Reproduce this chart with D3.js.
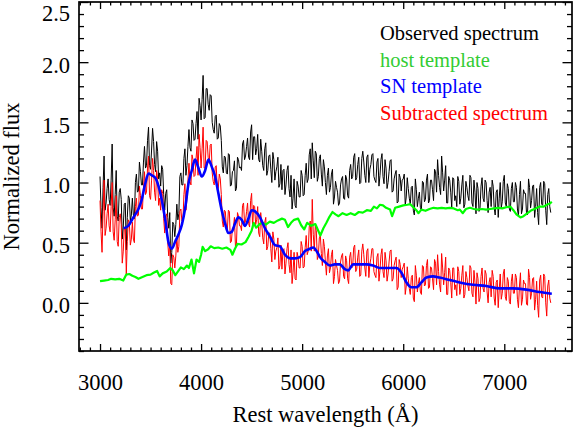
<!DOCTYPE html>
<html><head><meta charset="utf-8">
<script src="https://cdn.jsdelivr.net/npm/d3@7"></script>
<style>
body{margin:0;background:#fff}
svg{display:block}
text{font-family:"Liberation Serif","Times New Roman",serif}
</style>
</head><body>
<svg id="c" width="575" height="428"></svg>
<script>
// ---- data ----
const specStart = 3000, specStep = 10; // wavelength grid of the noisy spectra (Å)
const observedFlux = [
1.05,0.79,0.62,0.96,1.22,0.77,0.83,0.95,1.03,0.86,0.81,1.02,1.32,0.79,0.72,0.90,1.10,0.72,0.68,0.92,
0.95,0.86,0.53,0.63,0.82,0.83,0.44,0.71,0.89,0.87,0.68,0.73,0.87,0.73,0.70,1.00,1.07,0.92,0.93,1.17,
1.09,0.98,0.98,1.17,1.30,1.12,1.14,1.35,1.46,1.14,1.11,1.27,1.45,1.34,1.15,1.09,1.34,1.26,1.03,1.08,
0.97,1.14,1.11,0.90,0.77,0.91,0.94,0.71,0.62,0.75,0.33,0.42,0.67,0.65,0.55,0.65,0.82,0.69,0.74,1.05,
1.08,0.98,0.98,1.20,1.28,1.06,1.14,1.30,1.44,1.29,1.26,1.52,1.49,1.35,1.36,1.49,1.59,1.36,1.70,1.64,
1.52,1.69,1.89,1.53,1.54,1.78,1.78,1.65,1.60,1.73,1.72,1.50,1.44,1.41,1.55,1.56,1.36,1.37,1.49,1.47,
1.35,1.13,1.08,1.22,1.21,1.08,1.07,1.24,1.23,0.97,0.98,1.09,1.10,1.18,0.93,0.95,1.21,1.19,1.12,1.13,
1.10,1.32,1.35,1.19,1.22,1.30,1.37,1.21,1.19,1.42,1.48,1.19,1.38,1.38,1.23,1.28,1.40,1.19,1.17,1.36,
1.26,1.14,1.10,1.28,1.33,1.06,1.10,1.22,1.23,1.11,1.00,1.25,1.19,1.02,1.09,1.13,1.21,0.96,0.99,1.15,
0.94,1.10,1.11,0.90,0.98,1.10,1.14,0.95,0.88,1.06,0.78,0.87,1.03,0.81,0.79,1.01,0.97,0.88,0.88,1.10,
1.06,0.89,0.90,1.06,1.16,1.00,1.03,1.23,1.28,1.03,1.33,1.18,1.04,1.26,1.24,1.01,1.05,1.20,1.23,1.07,
0.97,1.19,1.13,1.00,0.90,1.06,1.12,0.92,0.96,1.07,1.11,0.82,0.88,1.01,0.96,0.92,0.81,0.83,0.98,1.03,
1.05,0.87,0.86,1.06,1.03,0.89,0.87,1.10,1.15,1.03,1.05,1.21,1.24,1.02,1.04,1.15,1.21,0.99,1.00,1.20,
1.26,1.17,1.06,1.00,1.21,1.23,1.00,1.11,1.15,1.23,1.24,1.05,1.02,1.00,1.17,1.20,0.97,1.06,1.19,1.24,
1.05,0.99,1.19,1.12,0.95,1.00,1.09,1.18,1.19,0.92,0.93,1.03,1.07,1.10,0.83,0.84,1.07,1.04,0.93,1.02,
1.03,1.07,0.81,0.88,1.04,0.95,0.87,0.82,0.96,0.97,0.77,0.73,1.03,0.94,0.80,0.87,0.92,0.79,0.77,1.01,
1.00,0.84,0.86,1.02,1.07,0.83,0.85,1.02,1.02,0.94,0.85,1.11,1.09,0.92,1.19,1.06,0.96,0.90,1.22,1.08,
0.93,1.02,1.14,0.83,0.83,1.05,1.02,0.92,0.79,1.04,1.03,0.85,0.89,0.80,1.05,1.01,0.82,0.87,0.98,1.06,
0.79,0.82,1.01,0.96,0.89,0.85,1.06,1.04,0.83,0.80,1.02,0.92,0.74,1.00,0.95,0.76,0.79,0.97,1.04,0.87,
0.84,1.02,1.00,0.85,0.75,0.92,0.96,0.80,1.02,0.97,0.79,0.73,0.92,0.94,0.71,0.87,1.00,0.79,0.84,1.01,
1.06,0.83,0.80,0.99,0.95,0.78,0.76,0.95,1.00,0.84,0.84,1.00,0.96,0.78,0.72,0.90,1.01,0.74,0.78,0.94,
0.91,0.91,0.74,0.73,1.03,0.96,0.79,0.85,0.97,0.98,0.71,0.80,0.95,0.75,0.65,0.96,1.00,0.82,0.81,1.01,
0.99,0.77,0.65,0.90,0.95,0.80,0.75];
const subtractedFlux = [
0.85,0.59,0.42,0.76,1.02,0.56,0.62,0.74,0.82,0.64,0.59,0.80,1.00,0.59,0.52,0.69,0.89,0.51,0.47,0.71,
0.74,0.65,0.33,0.43,0.62,0.63,0.24,0.51,0.69,0.67,0.48,0.53,0.67,0.53,0.50,0.80,0.87,0.72,0.73,0.97,
0.89,0.78,0.78,0.96,1.09,0.90,0.92,1.12,1.22,0.89,0.86,1.02,1.20,1.10,0.92,0.85,1.10,1.03,0.81,0.87,
0.77,0.94,0.91,0.70,0.58,0.72,0.74,0.50,0.39,0.50,0.16,0.15,0.40,0.38,0.29,0.39,0.55,0.42,0.47,0.76,
0.78,0.68,0.68,0.90,0.99,0.77,0.86,1.02,1.16,1.01,0.98,1.23,1.19,1.05,1.06,1.20,1.30,1.06,1.40,1.29,
1.12,1.28,1.46,1.12,1.12,1.35,1.34,1.21,1.16,1.31,1.32,1.08,1.01,0.98,1.13,1.14,0.94,0.95,1.07,1.03,
0.90,0.68,0.63,0.77,0.76,0.62,0.61,0.77,0.76,0.50,0.51,0.62,0.63,0.71,0.47,0.49,0.75,0.72,0.64,0.64,
0.60,0.81,0.83,0.66,0.68,0.76,0.83,0.66,0.63,0.85,0.91,0.62,0.81,0.80,0.65,0.69,0.80,0.58,0.55,0.75,
0.66,0.54,0.49,0.67,0.71,0.44,0.47,0.58,0.58,0.45,0.34,0.59,0.53,0.36,0.43,0.46,0.54,0.28,0.31,0.48,
0.28,0.44,0.45,0.24,0.33,0.45,0.50,0.32,0.25,0.44,0.16,0.25,0.42,0.20,0.19,0.42,0.38,0.29,0.29,0.51,
0.47,0.29,0.30,0.46,0.56,0.40,0.43,0.63,0.68,0.43,0.86,0.57,0.43,0.64,0.60,0.36,0.39,0.54,0.56,0.41,
0.31,0.53,0.47,0.34,0.23,0.39,0.45,0.25,0.29,0.40,0.44,0.16,0.22,0.36,0.31,0.27,0.16,0.18,0.34,0.39,
0.41,0.22,0.20,0.39,0.35,0.20,0.16,0.38,0.42,0.29,0.30,0.46,0.48,0.26,0.28,0.38,0.44,0.22,0.23,0.43,
0.49,0.40,0.29,0.22,0.43,0.45,0.21,0.32,0.37,0.45,0.45,0.26,0.23,0.21,0.38,0.41,0.18,0.27,0.40,0.45,
0.26,0.21,0.42,0.35,0.18,0.24,0.34,0.43,0.44,0.18,0.20,0.31,0.35,0.38,0.11,0.13,0.36,0.32,0.21,0.28,
0.30,0.33,0.07,0.14,0.30,0.20,0.12,0.07,0.21,0.23,0.04,0.01,0.31,0.23,0.09,0.16,0.21,0.09,0.07,0.31,
0.30,0.14,0.15,0.31,0.36,0.12,0.13,0.30,0.29,0.20,0.11,0.36,0.33,0.15,0.40,0.26,0.15,0.09,0.41,0.29,
0.15,0.25,0.38,0.07,0.07,0.29,0.27,0.17,0.04,0.29,0.29,0.11,0.15,0.06,0.30,0.26,0.07,0.12,0.23,0.31,
0.04,0.07,0.26,0.21,0.14,0.10,0.31,0.29,0.08,0.05,0.27,0.17,-0.01,0.25,0.20,0.01,0.04,0.22,0.29,0.12,
0.09,0.27,0.24,0.09,0.00,0.17,0.21,0.05,0.27,0.22,0.04,-0.02,0.17,0.19,-0.04,0.11,0.24,0.03,0.08,0.24,
0.28,0.05,0.02,0.21,0.18,0.01,-0.01,0.18,0.24,0.08,0.08,0.24,0.21,0.03,-0.04,0.14,0.25,-0.02,0.03,0.19,
0.16,0.16,-0.01,-0.02,0.28,0.21,0.03,0.08,0.20,0.21,-0.06,0.03,0.18,-0.02,-0.12,0.19,0.23,0.05,0.04,0.24,
0.22,0.00,-0.11,0.14,0.19,0.04,0.00];
const hostWave = [3000,3040,3080,3110,3150,3190,3230,3260,3290,3320,3350,3380,3420,3460,3500,3530,3565,3590,3620,3660,3695,3720,3745,3770,3800,3830,3860,3880,3905,3930,3955,3980,4000,4015,4040,4070,4095,4130,4170,4210,4250,4290,4310,4335,4360,4400,4440,4470,4500,4520,4545,4580,4610,4640,4680,4720,4760,4800,4830,4860,4890,4920,4960,4990,5020,5050,5090,5130,5180,5210,5240,5270,5300,5330,5360,5400,5440,5480,5520,5560,5600,5640,5680,5710,5740,5770,5800,5830,5870,5890,5920,5960,6000,6040,6070,6100,6130,6150,6180,6220,6260,6300,6340,6380,6420,6460,6500,6540,6560,6590,6620,6660,6700,6740,6780,6820,6860,6900,6940,6980,7020,7060,7090,7120,7160,7190,7230,7270,7310,7350,7390,7420,7450,7470];
const hostFlux = [0.18,0.185,0.19,0.20,0.195,0.20,0.185,0.235,0.24,0.225,0.215,0.20,0.215,0.23,0.235,0.25,0.265,0.22,0.245,0.26,0.29,0.27,0.23,0.26,0.295,0.28,0.31,0.29,0.36,0.245,0.36,0.34,0.40,0.465,0.43,0.445,0.47,0.455,0.46,0.45,0.46,0.44,0.40,0.45,0.49,0.485,0.505,0.55,0.60,0.665,0.625,0.655,0.665,0.65,0.675,0.665,0.685,0.70,0.69,0.63,0.665,0.69,0.70,0.645,0.61,0.665,0.64,0.655,0.56,0.62,0.665,0.715,0.755,0.735,0.72,0.745,0.73,0.745,0.73,0.755,0.75,0.77,0.765,0.80,0.785,0.815,0.81,0.79,0.775,0.72,0.79,0.80,0.81,0.815,0.82,0.795,0.77,0.745,0.775,0.765,0.78,0.79,0.785,0.79,0.785,0.79,0.785,0.77,0.775,0.745,0.78,0.79,0.78,0.775,0.78,0.775,0.78,0.785,0.79,0.785,0.795,0.80,0.77,0.735,0.71,0.72,0.745,0.77,0.785,0.80,0.80,0.815,0.825,0.84];
const snWave = [3233,3280,3330,3380,3410,3447,3480,3513,3546,3579,3612,3645,3677,3711,3744,3777,3810,3843,3875,3908,3940,3974,4007,4040,4073,4106,4139,4171,4204,4237,4270,4303,4336,4369,4402,4435,4468,4501,4534,4583,4632,4682,4731,4780,4830,4880,4929,4978,5028,5077,5110,5150,5176,5225,5274,5322,5372,5422,5455,5505,5571,5637,5702,5768,5834,5933,5983,6032,6081,6131,6180,6230,6296,6361,6460,6559,6690,6822,6954,7085,7217,7349,7470];
const snFlux = [0.62,0.64,0.71,0.78,0.85,0.99,1.075,1.06,1.04,0.97,0.85,0.69,0.505,0.45,0.51,0.57,0.65,0.79,0.99,1.10,1.19,1.12,1.05,1.10,1.19,1.13,1.05,0.91,0.77,0.66,0.58,0.59,0.66,0.71,0.69,0.64,0.70,0.77,0.76,0.71,0.62,0.55,0.48,0.47,0.40,0.37,0.37,0.38,0.43,0.45,0.46,0.42,0.38,0.34,0.31,0.32,0.32,0.28,0.27,0.32,0.32,0.32,0.31,0.29,0.29,0.29,0.25,0.17,0.13,0.13,0.17,0.21,0.22,0.21,0.19,0.17,0.15,0.14,0.12,0.12,0.11,0.09,0.075];
const xTickValues = [3000,4000,5000,6000,7000];
const yTickValues = [0,0.5,1,1.5,2,2.5];
const legendLabels = ["Observed spectrum","host template","SN template","Subtracted spectrum"];
const legendColors = ["#000000","#33cc33","#0000ff","#ff0000"];

// ---- layout ----
const W = 575, H = 428, m = {l:79, r:3, t:2, b:77};
const svg = d3.select("#c");
const x = d3.scaleLinear().domain([2792, 7670]).range([m.l, W - m.r]);
const y = d3.scaleLinear().domain([-0.4, 2.5]).range([H - m.b, m.t]);
const FS = 22.5;

svg.append("defs").append("clipPath").attr("id","clip")
  .append("rect").attr("x", m.l).attr("y", m.t)
  .attr("width", W - m.l - m.r).attr("height", H - m.t - m.b);

const plot = svg.append("g").attr("clip-path","url(#clip)");
const specW = observedFlux.map((_, i) => specStart + i * specStep);

const line = d3.line().x(d => x(d[0])).y(d => y(d[1]));
const smooth = d3.line().x(d => x(d[0])).y(d => y(d[1])).curve(d3.curveMonotoneX);

plot.append("path").datum(specW.map((w,i)=>[w, observedFlux[i]]))
  .attr("d", line).attr("fill","none").attr("stroke","#000").attr("stroke-width",1);
plot.append("path").datum(specW.map((w,i)=>[w, subtractedFlux[i]]))
  .attr("d", line).attr("fill","none").attr("stroke","#ff0000").attr("stroke-width",1);
plot.append("path").datum(hostWave.map((w,i)=>[w, hostFlux[i]]))
  .attr("d", line).attr("fill","none").attr("stroke","#00ff00").attr("stroke-width",2.2)
  .attr("stroke-linejoin","round");
plot.append("path").datum(snWave.map((w,i)=>[w, snFlux[i]]))
  .attr("d", smooth).attr("fill","none").attr("stroke","#0000ff").attr("stroke-width",2.6)
  .attr("stroke-linejoin","round");

// ---- axes ----
const xMinor = d3.range(2800, 7700, 100).filter(v => v % 1000 !== 0);
const yMinor = d3.range(-4, 26, 1).map(v => v / 10).filter(v => Math.abs(v*2 - Math.round(v*2)) > 1e-6);
const bottomY = H - m.b, rightX = W - m.r;

function styleAxis(g){
  g.select(".domain").remove();
  g.selectAll(".tick line").attr("stroke","#000").attr("stroke-width",1.3);
  g.selectAll("text").attr("font-size", FS).attr("fill","#000")
    .attr("font-family",'"Liberation Serif","Times New Roman",serif');
}

// bottom
svg.append("g").attr("transform",`translate(0,${bottomY})`)
  .call(d3.axisBottom(x).tickValues(xTickValues).tickSizeInner(-7).tickSizeOuter(0).tickPadding(23).tickFormat(d3.format("d")))
  .call(styleAxis);
svg.append("g").attr("transform",`translate(0,${bottomY})`)
  .call(d3.axisBottom(x).tickValues(xMinor).tickSizeInner(-3.5).tickSizeOuter(0).tickFormat(""))
  .call(styleAxis);
// top
svg.append("g").attr("transform",`translate(0,${m.t})`)
  .call(d3.axisTop(x).tickValues(xTickValues).tickSizeInner(-7).tickSizeOuter(0).tickFormat(""))
  .call(styleAxis);
svg.append("g").attr("transform",`translate(0,${m.t})`)
  .call(d3.axisTop(x).tickValues(xMinor).tickSizeInner(-3.5).tickSizeOuter(0).tickFormat(""))
  .call(styleAxis);
// left
const yAx = svg.append("g").attr("transform",`translate(${m.l},0)`)
  .call(d3.axisLeft(y).tickValues(yTickValues).tickSizeInner(-9.5).tickSizeOuter(0).tickPadding(9).tickFormat(d3.format(".1f")))
  .call(styleAxis);
yAx.selectAll(".tick text").attr("dy", d => d >= 2.5 ? "18px" : "0.45em");
svg.append("g").attr("transform",`translate(${m.l},0)`)
  .call(d3.axisLeft(y).tickValues(yMinor).tickSizeInner(-5).tickSizeOuter(0).tickFormat(""))
  .call(styleAxis);
// right
svg.append("g").attr("transform",`translate(${rightX},0)`)
  .call(d3.axisRight(y).tickValues(yTickValues).tickSizeInner(-9.5).tickSizeOuter(0).tickFormat(""))
  .call(styleAxis);
svg.append("g").attr("transform",`translate(${rightX},0)`)
  .call(d3.axisRight(y).tickValues(yMinor).tickSizeInner(-5).tickSizeOuter(0).tickFormat(""))
  .call(styleAxis);

// frame
svg.append("rect").attr("x", m.l).attr("y", m.t)
  .attr("width", rightX - m.l).attr("height", bottomY - m.t)
  .attr("fill","none").attr("stroke","#000").attr("stroke-width",1.7);

// titles
svg.append("text").attr("x", (m.l + rightX) / 2).attr("y", 422)
  .attr("text-anchor","middle").attr("font-size", FS).text("Rest wavelength (Å)");
svg.append("text").attr("transform",`translate(18.5,${(m.t + bottomY)/2}) rotate(-90)`)
  .attr("text-anchor","middle").attr("font-size", FS).text("Normalized flux");

// legend
const leg = svg.append("g");
legendLabels.forEach((t, i) => {
  leg.append("text").attr("x", 380).attr("y", 40 + i * 26.5)
    .attr("font-size", 20.5).attr("fill", legendColors[i]).text(t);
});
</script>
</body></html>
